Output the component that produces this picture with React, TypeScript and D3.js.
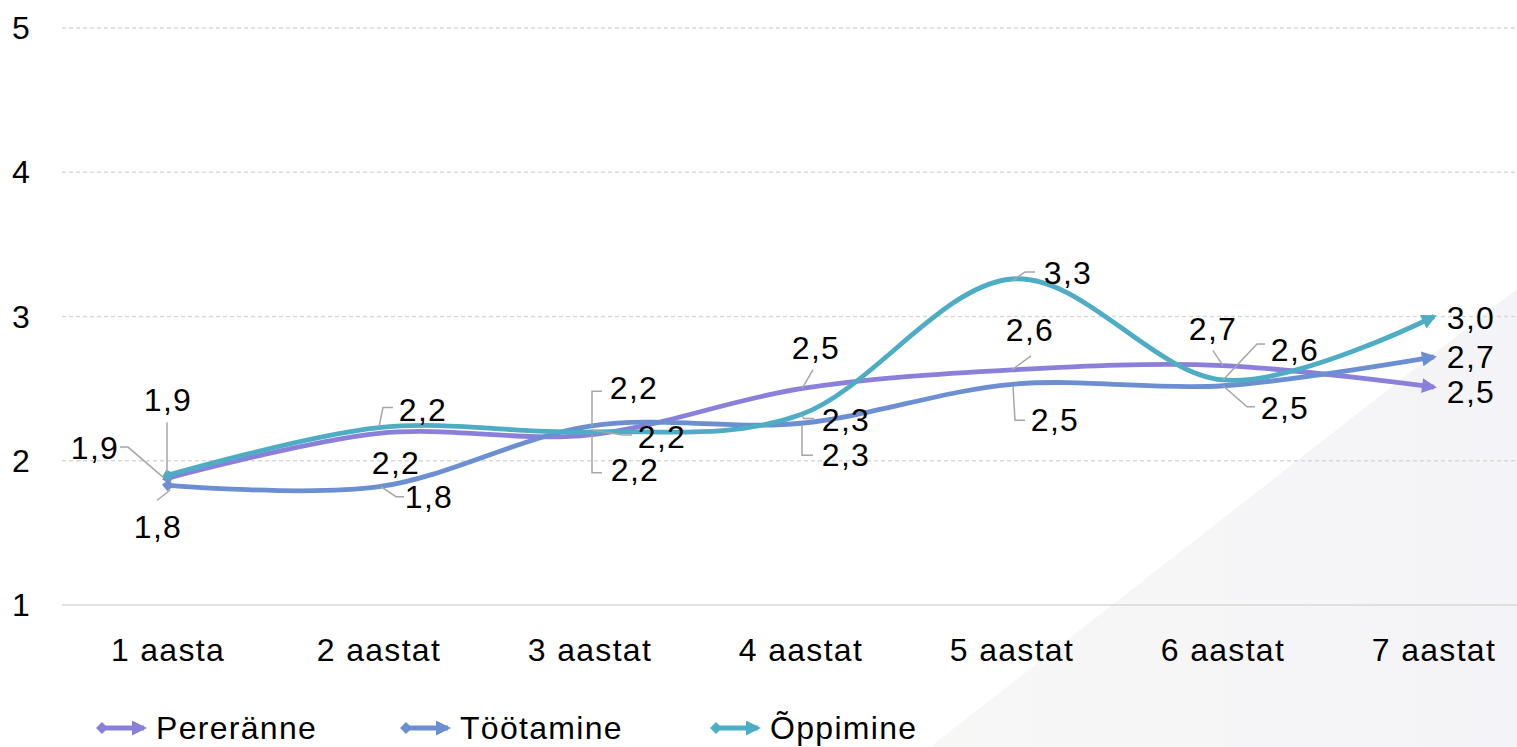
import React from 'react';
import * as d3 from 'd3';

const categories = ['1 aasta', '2 aastat', '3 aastat', '4 aastat', '5 aastat', '6 aastat', '7 aastat'];
const seriesNames = ['Pereränne', 'Töötamine', 'Õppimine'];
const pereranne = [1.88, 2.19, 2.18, 2.5, 2.63, 2.66, 2.51];
const tootamine = [1.83, 1.82, 2.24, 2.26, 2.53, 2.52, 2.72];
const oppimine = [1.9, 2.23, 2.2, 2.32, 3.26, 2.56, 3.0];
const yTicks = [1, 2, 3, 4, 5];
const colors = ['#8b80d9', '#6b8fd1', '#4eadc5'];

// label placement: [dx, dy] of text centre from the point, then leader points relative to the point
type Lbl = { d: [number, number]; leader?: [number, number][] };
const labelLayout: Lbl[][] = [
  [
    { d: [-73, -30], leader: [[-5, -1], [-40, -31], [-48, -31]] },
    { d: [17, 29] },
    { d: [45, 35], leader: [[2, 0], [2, 38], [12, 38]] },
    { d: [15, -41], leader: [[1, 0], [12, -19]] },
    { d: [18, -40], leader: [[0, 0], [19, -14]] },
    { d: [-10, -37], leader: [[0, 0], [-10, -15]] },
    { d: [37, 5] },
  ],
  [
    { d: [-10, 42], leader: [[2, 5], [-11, 15]] },
    { d: [50, 10], leader: [[2, 0], [17, 10], [25, 10]] },
    { d: [44, -38], leader: [[2, 0], [2, -35], [12, -35]] },
    { d: [45, 32], leader: [[1, 2], [1, 32], [12, 32]] },
    { d: [43, 36], leader: [[1, 2], [3, 36], [13, 36]] },
    { d: [62, 22], leader: [[0, 0], [24, 21], [32, 21]] },
    { d: [37, 0] },
  ],
  [
    { d: [0, -75], leader: [[-1, -3], [-1, -53]] },
    { d: [44, -18], leader: [[0, -1], [4, -20], [14, -20]] },
    { d: [72, 5], leader: [[2, -2], [33, 3], [42, 3]] },
    { d: [45, 5], leader: [[0, 0], [3, 4], [13, 4]] },
    { d: [56, -6], leader: [[0, 2], [13, -7], [23, -7]] },
    { d: [72, -30], leader: [[0, 0], [34, -36], [42, -36]] },
    { d: [37, 1] },
  ],
];

const W = 1517;
const H = 747;
const FONT = '"Liberation Sans", Arial, sans-serif';
const FS = 32;
const LS = 1.3;

export default function App() {
  const values = [pereranne, tootamine, oppimine];
  const x = d3.scaleBand().domain(categories).range([62.5, 1539.5]).padding(0);
  const cx = (c: string) => (x(c) as number) + x.bandwidth() / 2;
  const y = d3.scaleLinear().domain([1, 5]).range([605, 28]);
  const line = d3
    .line<number>()
    .x((_, i) => cx(categories[i]))
    .y((d) => y(d))
    .curve(d3.curveCardinal.tension(0));
  const fmt = (v: number) => v.toFixed(1).replace('.', ',');

  const legendX = [98, 402, 712];

  return (
    <div style={{ position: 'absolute', left: 0, top: 0 }}>
      <svg width={W} height={H} style={{ display: 'block', fontFamily: FONT, letterSpacing: LS }}>
        <defs>
          <linearGradient id="bgtri" x1="0" y1="0" x2="1" y2="0">
            <stop offset="0" stopColor="#f7f7f6" />
            <stop offset="1" stopColor="#f4f4f8" />
          </linearGradient>
          {colors.map((c, i) => (
            <React.Fragment key={i}>
              <marker id={`arr${i}`} viewBox="0 0 10 10" refX="8" refY="5" markerWidth="17" markerHeight="15"
                markerUnits="userSpaceOnUse" orient="auto">
                <path d="M0,0 L10,5 L0,10 Z" fill={c} />
              </marker>
              <marker id={`dia${i}`} viewBox="0 0 10 10" refX="5" refY="5" markerWidth="12" markerHeight="12"
                markerUnits="userSpaceOnUse" orient="auto">
                <path d="M0,5 L5,0 L10,5 L5,10 Z" fill={c} />
              </marker>
            </React.Fragment>
          ))}
        </defs>
        <rect width={W} height={H} fill="#ffffff" />
        <polygon points={`930,${H} ${W},289 ${W},${H}`} fill="url(#bgtri)" />

        {yTicks.map((t) => (
          <g key={t}>
            <line x1={62} x2={W} y1={y(t)} y2={y(t)} stroke="#d9d9d9" strokeWidth={1.3}
              strokeDasharray={t === 1 ? undefined : '4 3'} />
            <text x={31} y={y(t)} dy="0.35em" textAnchor="end" fontSize={FS} fill="#000">{t}</text>
          </g>
        ))}

        {categories.map((c) => (
          <text key={c} x={cx(c)} y={650} dy="0.35em" textAnchor="middle" fontSize={FS} fill="#000">{c}</text>
        ))}

        {values.map((vals, si) => (
          <path key={si} d={line(vals) || ''} fill="none" stroke={colors[si]} strokeWidth={4.8}
            markerStart={`url(#dia${si})`} markerEnd={`url(#arr${si})`} />
        ))}

        {values.map((vals, si) =>
          vals.map((v, i) => {
            const px = cx(categories[i]);
            const py = y(v);
            const L = labelLayout[si][i];
            return (
              <g key={`${si}-${i}`}>
                {L.leader && (
                  <polyline points={L.leader.map(([a, b]) => `${px + a},${py + b}`).join(' ')}
                    fill="none" stroke="#a6a6a6" strokeWidth={1.5} />
                )}
                <text x={px + L.d[0]} y={py + L.d[1]} dy="0.35em" textAnchor="middle" fontSize={FS} fill="#000">
                  {fmt(v)}
                </text>
              </g>
            );
          })
        )}

        {seriesNames.map((n, i) => (
          <g key={n} transform={`translate(${legendX[i]},728)`}>
            <line x1={4} x2={46} y1={0} y2={0} stroke={colors[i]} strokeWidth={4.8}
              markerStart={`url(#dia${i})`} markerEnd={`url(#arr${i})`} />
            <text x={58} y={0} dy="0.35em" fontSize={FS} fill="#000">{n}</text>
          </g>
        ))}
      </svg>
    </div>
  );
}
